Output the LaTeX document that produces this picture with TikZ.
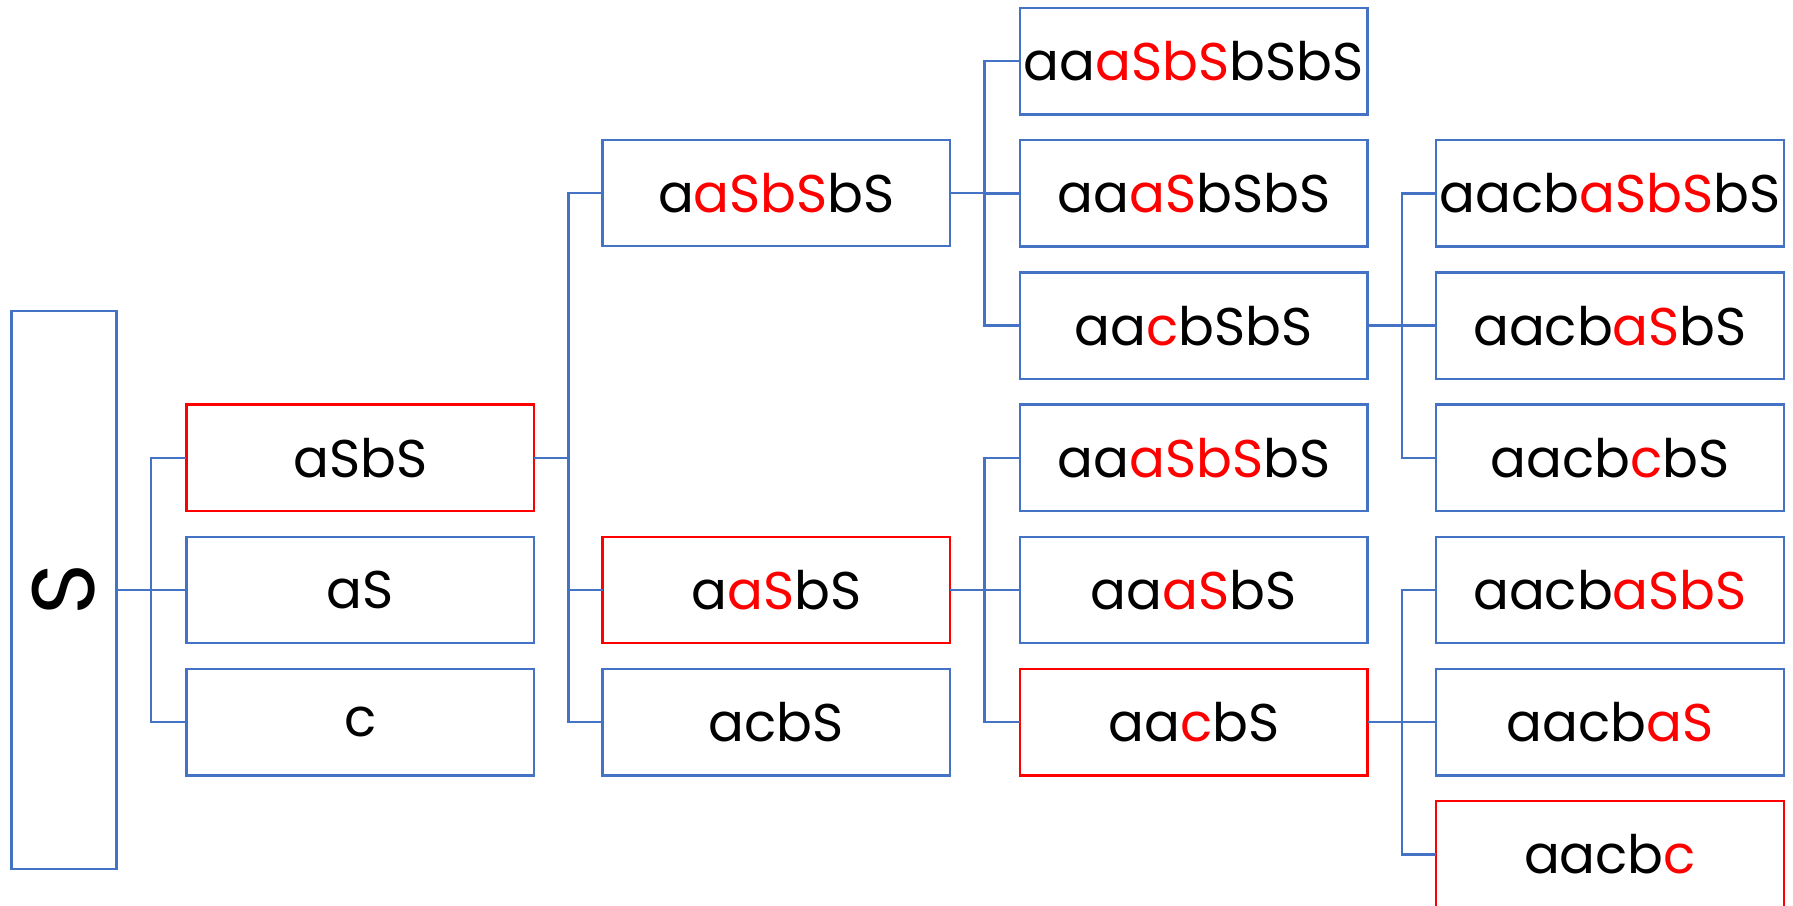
\documentclass[tikz,border=0pt]{standalone}
\usepackage{fontspec}
\setmainfont{Poppins}
\usetikzlibrary{positioning,calc}
\definecolor{cline}{HTML}{4472C4}
\definecolor{chl}{HTML}{FF0000}
\tikzset{
  deriv/.style={rectangle, draw=cline, line width=0.6pt, minimum width=30.4mm,
    minimum height=9.3mm, inner sep=0pt, outer sep=0pt,
    font=\fontsize{13.2}{15}\selectfont},
  sel/.style={deriv, draw=chl},
  root/.style={rectangle, draw=cline, line width=0.6pt, minimum width=9.2mm,
    minimum height=48.8mm, inner sep=0pt, outer sep=0pt,
    font=\fontsize{22}{24}\selectfont},
  link/.style={draw=cline, line width=0.6pt},
}
\newcommand{\hl}[1]{\textcolor{chl}{#1}}

\begin{document}
\begin{tikzpicture}[node distance=2.26mm and 6mm]
  \node[root] (S) {\rotatebox{90}{S}};
  \useasboundingbox ($(S.north west)+(-1mm,27.2mm)$) rectangle ++(156.8mm,-79.2mm);

  \node[deriv, right=6.1mm of S] (a2) {aS};
  \node[sel, above=of a2] (a1) {aSbS};
  \node[deriv, below=of a2] (a3) {c};

  \node[sel, right=of a2] (b2) {a\hl{aS}bS};
  \node[deriv, below=of b2] (b3) {acbS};
  \node[deriv, above=25.42mm of b2] (b1) {a\hl{aSbS}bS};

  \node[deriv, right=6.1mm of b2] (c5) {aa\hl{aS}bS};
  \node[deriv, above=of c5] (c4) {aa\hl{aSbS}bS};
  \node[deriv, above=of c4] (c3) {aa\hl{c}bSbS};
  \node[deriv, above=of c3] (c2) {aa\hl{aS}bSbS};
  \node[deriv, above=of c2] (c1) {aa\hl{aSbS}bSbS};
  \node[sel, below=of c5] (c6) {aa\hl{c}bS};

  \node[deriv, right=of c5] (d4) {aacb\hl{aSbS}};
  \node[deriv, above=of d4] (d3) {aacb\hl{c}bS};
  \node[deriv, above=of d3] (d2) {aacb\hl{aS}bS};
  \node[deriv, above=of d2] (d1) {aacb\hl{aSbS}bS};
  \node[deriv, below=of d4] (d5) {aacb\hl{aS}};
  \node[sel, below=of d5] (d6) {aacb\hl{c}};

  \foreach \c in {a1,a2,a3} \draw[link] (S.east) -- ++(3mm,0) |- (\c.west);
  \foreach \c in {b1,b2,b3} \draw[link] (a1.east) -- ++(3mm,0) |- (\c.west);
  \foreach \c in {c1,c2,c3} \draw[link] (b1.east) -- ++(3mm,0) |- (\c.west);
  \foreach \c in {c4,c5,c6} \draw[link] (b2.east) -- ++(3mm,0) |- (\c.west);
  \foreach \c in {d1,d2,d3} \draw[link] (c3.east) -- ++(3mm,0) |- (\c.west);
  \foreach \c in {d4,d5,d6} \draw[link] (c6.east) -- ++(3mm,0) |- (\c.west);
\end{tikzpicture}
\end{document}
